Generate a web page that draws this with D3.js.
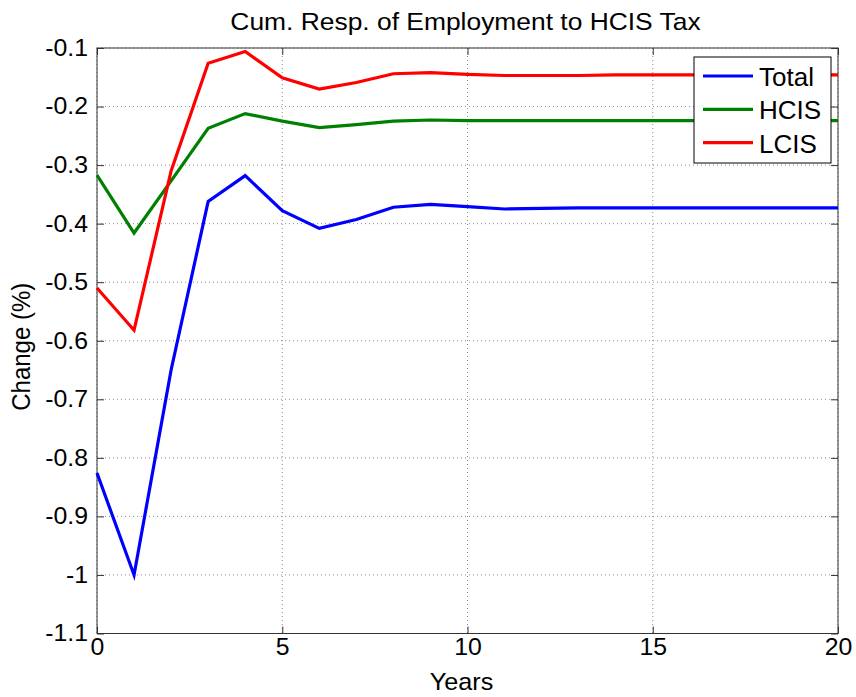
<!DOCTYPE html>
<html>
<head>
<meta charset="utf-8">
<script src="https://cdn.jsdelivr.net/npm/d3@7"></script>
<style>
  html, body { margin: 0; padding: 0; background: #fff; }
  text { font-family: "Liberation Sans", Arial, sans-serif; fill: #000; }
</style>
</head>
<body>
<svg id="chart" width="856" height="697"></svg>
<script>
// ---- data ----
const years = d3.range(0, 21);
const totalVals = [-0.826, -1.0, -0.65, -0.362, -0.318, -0.378, -0.408, -0.393, -0.372, -0.367, -0.371,
                   -0.375, -0.374, -0.373, -0.373, -0.373, -0.373, -0.373, -0.373, -0.373, -0.373];
const hcisVals  = [-0.317, -0.416, -0.327, -0.237, -0.212, -0.225, -0.236, -0.231, -0.225, -0.223, -0.224,
                   -0.224, -0.224, -0.224, -0.224, -0.224, -0.224, -0.224, -0.224, -0.224, -0.224];
const lcisVals  = [-0.510, -0.582, -0.31, -0.126, -0.106, -0.151, -0.170, -0.159, -0.144, -0.142, -0.145,
                   -0.147, -0.147, -0.147, -0.146, -0.146, -0.146, -0.146, -0.146, -0.146, -0.146];
const seriesNames = ["Total", "HCIS", "LCIS"];
const seriesColors = ["#0000ff", "#008000", "#ff0000"];
const xTicks = [0, 5, 10, 15, 20];
const yTicks = [-1.1, -1, -0.9, -0.8, -0.7, -0.6, -0.5, -0.4, -0.3, -0.2, -0.1];
const titleText = "Cum. Resp. of Employment to HCIS Tax";
const xLabel = "Years";
const yLabel = "Change (%)";

// ---- layout ----
const L = 97, R = 838, T = 48, B = 633.5;
const STRETCH = 1.08;
const svg = d3.select("#chart");
const x = d3.scaleLinear().domain([0, 20]).range([L, R]);
const y = d3.scaleLinear().domain([-1.1, -0.1]).range([B, T]);

// grid
const grid = svg.append("g").attr("stroke", "#8a8a8a").attr("stroke-width", 1).attr("stroke-dasharray", "1,3");
grid.selectAll(".gx").data(xTicks).join("line")
  .attr("x1", d => x(d)).attr("x2", d => x(d)).attr("y1", T).attr("y2", B);
grid.selectAll(".gy").data(yTicks).join("line")
  .attr("y1", d => y(d)).attr("y2", d => y(d)).attr("x1", L).attr("x2", R);

// axes
const fmt = d => String(d);
const axB = svg.append("g").attr("transform", `translate(0,${B})`)
  .call(d3.axisBottom(x).tickValues(xTicks).tickFormat(fmt).tickSizeInner(-7).tickSizeOuter(0).tickPadding(5));
const axL = svg.append("g").attr("transform", `translate(${L},0)`)
  .call(d3.axisLeft(y).tickValues(yTicks).tickFormat(fmt).tickSizeInner(-7).tickSizeOuter(0).tickPadding(9));
const axT = svg.append("g").attr("transform", `translate(0,${T})`)
  .call(d3.axisTop(x).tickValues(xTicks).tickFormat("").tickSizeInner(-7).tickSizeOuter(0));
const axR = svg.append("g").attr("transform", `translate(${R},0)`)
  .call(d3.axisRight(y).tickValues(yTicks).tickFormat("").tickSizeInner(-7).tickSizeOuter(0));
[axB, axL, axT, axR].forEach(a => {
  a.select(".domain").remove();
  a.selectAll(".tick line").attr("stroke", "#333");
});
axB.selectAll("text").attr("font-size", 23).attr("font-family", "Liberation Sans, Arial, sans-serif")
  .attr("fill", "#000").attr("transform", `scale(${STRETCH},1)`);
axL.selectAll("text").attr("font-size", 23).attr("font-family", "Liberation Sans, Arial, sans-serif")
  .attr("fill", "#000").attr("x", 0).attr("transform", `translate(-9,0) scale(${STRETCH},1)`);

// box
svg.append("rect").attr("x", L).attr("y", T).attr("width", R - L).attr("height", B - T)
  .attr("fill", "none").attr("stroke", "#333").attr("stroke-width", 1);

// lines
const allVals = [totalVals, hcisVals, lcisVals];
const line = d3.line().x((d, i) => x(years[i])).y(d => y(d));
svg.append("g").selectAll("path").data(allVals).join("path")
  .attr("d", d => line(d)).attr("fill", "none")
  .attr("stroke", (d, i) => seriesColors[i]).attr("stroke-width", 3.2).attr("stroke-linejoin", "miter");

// title & labels
svg.append("text").attr("transform", `translate(${(L + R) / 2 - 2},30) scale(1.1,1)`)
  .attr("text-anchor", "middle").attr("font-size", 24).text(titleText);
svg.append("text").attr("transform", `translate(${(L + R) / 2 - 6},690) scale(1.05,1)`)
  .attr("text-anchor", "middle").attr("font-size", 24).text(xLabel);
svg.append("text").attr("transform", `translate(30,${(T + B) / 2 + 6}) rotate(-90) scale(1,1.05)`)
  .attr("text-anchor", "middle").attr("font-size", 24).text(yLabel);

// legend
const lg = svg.append("g");
lg.append("rect").attr("x", 694).attr("y", 57).attr("width", 137).attr("height", 106)
  .attr("fill", "#fff").attr("stroke", "#000").attr("stroke-width", 1);
const rowY = i => 76 + i * 33.3;
lg.selectAll("line").data(seriesNames).join("line")
  .attr("x1", 703).attr("x2", 753).attr("y1", (d, i) => rowY(i)).attr("y2", (d, i) => rowY(i))
  .attr("stroke", (d, i) => seriesColors[i]).attr("stroke-width", 3.2);
lg.selectAll("text").data(seriesNames).join("text")
  .attr("x", 759).attr("y", (d, i) => rowY(i) + 10).attr("font-size", 26).text(d => d);
</script>
</body>
</html>
